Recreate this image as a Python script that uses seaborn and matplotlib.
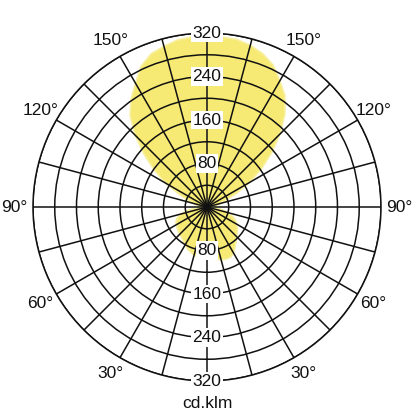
import numpy as np
import pandas as pd
import matplotlib
matplotlib.use("Agg")
import matplotlib.pyplot as plt
import seaborn as sns

# ---- data ----
gamma = list(range(0, 185, 5))  # degrees, 0 = downward, 180 = upward
c0_values = [95, 96, 98, 100, 102, 102, 98, 90, 83, 77, 73, 68, 63, 58, 50, 40, 28, 16, 10,
             14, 18, 26, 38, 60, 90, 122, 155, 190, 223, 250, 268, 288, 300, 308, 313, 314, 314]
c180_values = [95, 95, 94, 92, 88, 85, 80, 76, 73, 71, 69, 67, 65, 63, 58, 50, 35, 20, 10,
               14, 18, 26, 38, 58, 88, 118, 151, 187, 220, 243, 263, 286, 300, 306, 312, 314, 314]
ring_values = [40, 80, 120, 160, 200, 240, 280, 320]
ring_labels = [80, 160, 240, 320]
angle_labels = [30, 60, 90, 120, 150]
unit_label = "cd.klm"

sns.set_theme(style="white")
plt.rcParams["font.family"] = ["Liberation Sans", "DejaVu Sans"]

df = pd.DataFrame({
    "theta": np.concatenate([np.deg2rad(gamma), -np.deg2rad(gamma[::-1])]),
    "r": np.concatenate([c0_values, c180_values[::-1]]),
})

fig = plt.figure(figsize=(4.16, 4.16), dpi=100)
ax = fig.add_axes([0.0793, 0.0841, 0.8365, 0.8365], projection="polar")
ax.set_theta_zero_location("S")
ax.set_theta_direction(1)
ax.set_axisbelow(False)

ax.fill(df["theta"], df["r"], color="#f6ea74", lw=0, zorder=1)
sns.lineplot(data=df, x="theta", y="r", sort=False, estimator=None, color="#f8f0a0",
             lw=1.2, ax=ax, zorder=1.5)

ax.set_ylim(0, 320)
ax.set_yticks(ring_values)
ax.set_yticklabels([])
ax.set_xticks(np.deg2rad(np.arange(0, 360, 15)))
ax.set_xticklabels([])
ax.set_xlabel("")
ax.set_ylabel("")
ax.grid(True, color="#111111", lw=1.1)
ax.spines["polar"].set_color("#111111")
ax.spines["polar"].set_linewidth(1.1)

fs = 12.5
for v in ring_labels:
    for th in (np.pi, 0.0):
        ax.text(th, v, str(v), ha="center", va="center", fontsize=fs, color="#111111",
                zorder=5, bbox=dict(boxstyle="square,pad=0.1", fc="white", ec="none"))

for g in angle_labels:
    for th in (np.deg2rad(g), -np.deg2rad(g)):
        ax.text(th, 354, f"{g}°", ha="center", va="center", fontsize=fs,
                color="#111111", clip_on=False)

fig.text(207 / 416, 1 - 403 / 416, unit_label, ha="center", va="center",
         fontsize=fs, color="#111111")

fig.savefig("out.png", dpi=100, facecolor="white")
